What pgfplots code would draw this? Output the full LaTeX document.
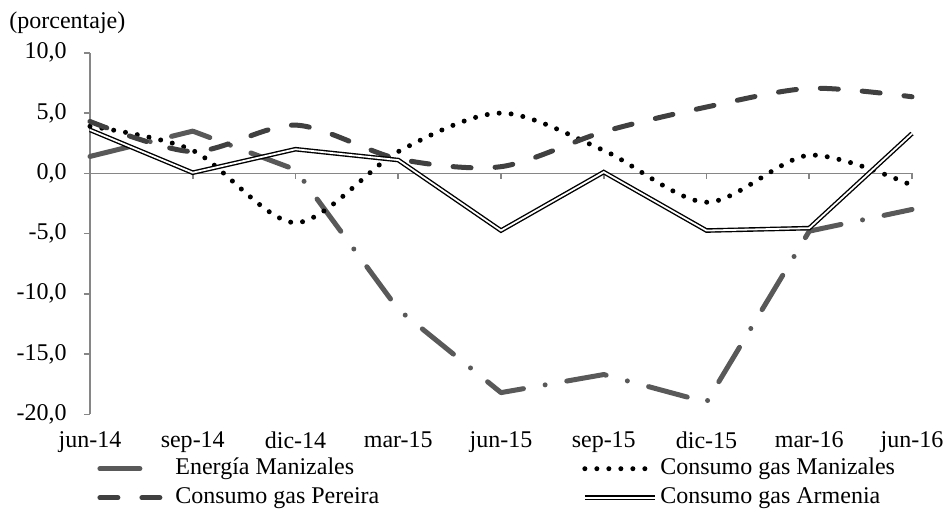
\documentclass[border=0pt]{standalone}
\usepackage{fontspec}
\setmainfont{Liberation Serif}
\usepackage{pgfplots}
\pgfplotsset{compat=1.18}
\definecolor{energia}{RGB}{89,89,89}
\definecolor{pereira}{RGB}{64,64,64}
\definecolor{ejegris}{RGB}{134,134,134}
\pgfplotsset{
    leyenda larga/.style={legend image code/.code={\draw[##1] (0pt,0pt) -- (35pt,0pt);}},
    leyenda corta/.style={legend image code/.code={\draw[##1] (0pt,0pt) -- (22pt,0pt);}},
}

\begin{document}
\fontsize{12}{14}\selectfont
\begin{tikzpicture}
\useasboundingbox (-45pt,-58.35pt) rectangle (430.5pt,207.15pt);
\begin{axis}[
    at={(0,0)}, anchor=south west,
    scale only axis,
    width=411pt, height=180.75pt,
    xmin=0, xmax=8, ymin=-20, ymax=10,
    xtick={0,...,8},
    xticklabels={jun-14,sep-14,dic-14,mar-15,jun-15,sep-15,dic-15,mar-16,jun-16},
    ytick={-20,-15,...,10},
    axis x line*=bottom, axis y line*=left,
    x axis line style={draw=none},
    xtick style={draw=none},
    y axis line style={ejegris, line width=0.8pt},
    ytick style={ejegris, line width=0.8pt},
    tick align=outside,
    major tick length=3pt,
    /pgf/number format/assume math mode=true,
    y tick label style={xshift=-4.5pt, /pgf/number format/.cd, fixed, fixed zerofill, precision=1, use comma},
    xticklabel style={yshift=-1.5pt},
    clip=false,
    legend columns=2,
    legend cell align=left,
    leyenda larga,
    legend style={draw=none, fill=none, at={(0,0)}, anchor=north west,
        xshift=3.5pt, yshift=-20pt, inner sep=0pt, row sep=0.5pt,
        nodes={inner sep=1.5pt, text height=8.5pt, text depth=2.5pt},
        /tikz/column 2/.style={column sep=100pt}},
]
% linea del cero con marcas
\draw[ejegris, line width=0.8pt] (axis cs:0,0) -- (axis cs:8,0);
\pgfplotsinvokeforeach{1,...,8}{\draw[ejegris, line width=0.8pt] (axis cs:#1,0) -- ++(0pt,-3pt);}

\addplot[energia, line width=2.5pt, line cap=round, line join=round,
    dash pattern=on 20pt off 11pt on 0pt off 11pt, leyenda corta]
    coordinates {(0,1.4) (1,3.5) (2,0.3) (3,-11.3) (4,-18.2) (5,-16.7) (6,-19.0) (7,-4.8) (8,-3.0)};
\addlegendentry{Energía Manizales}

\addplot[black, line width=2.5pt, line cap=round, dash pattern=on 0pt off 6pt,
    smooth, tension=0.5]
    coordinates {(0,3.9) (1,1.9) (2,-4.1) (3,1.8) (4,5.0) (5,1.9) (6,-2.4) (7,1.5) (8,-1.0)};
\addlegendentry{Consumo gas Manizales}

\addplot[pereira, line width=2.5pt, line cap=round, dash pattern=on 9pt off 12pt,
    smooth, tension=0.5]
    coordinates {(0,4.3) (1,1.8) (2,4.0) (3,1.2) (4,0.55) (5,3.45) (6,5.5) (7,7.05) (8,6.35)};
\addlegendentry{Consumo gas Pereira}

\addplot[black, line width=0.7pt, double=white, double distance=0.9pt]
    coordinates {(0,3.6) (1,0.05) (2,2.0) (3,1.1) (4,-4.75) (5,0.1) (6,-4.75) (7,-4.55) (8,3.3)};
\addlegendentry{Consumo gas Armenia}

\node[anchor=west, inner sep=0pt] at (axis description cs:0,1) [xshift=-40.5pt, yshift=15pt] {(porcentaje)};
\end{axis}
\end{tikzpicture}
\end{document}
